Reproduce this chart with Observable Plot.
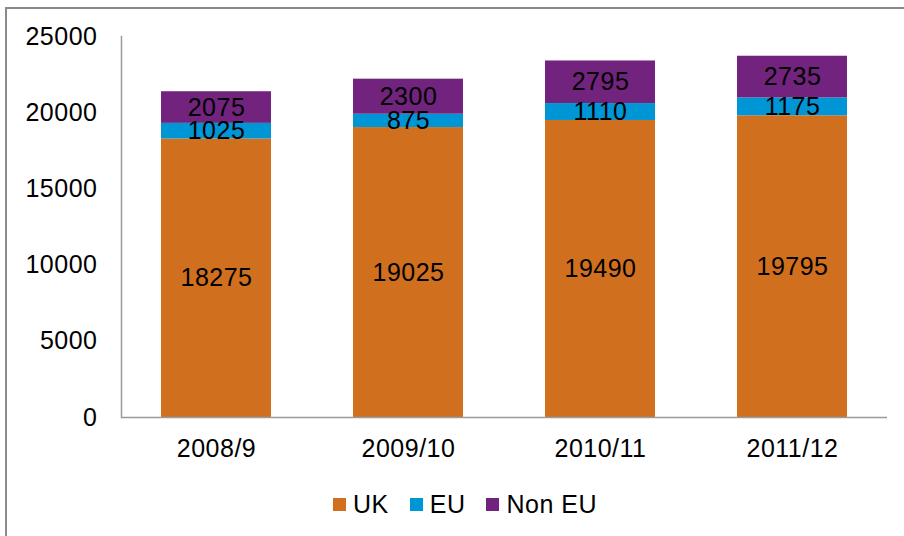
<!DOCTYPE html>
<html>
<head>
<meta charset="utf-8">
<script src="https://cdn.jsdelivr.net/npm/d3@7"></script>
<script src="https://cdn.jsdelivr.net/npm/@observablehq/plot@0.6"></script>
<style>
  html, body { margin: 0; padding: 0; background: #fff; overflow: hidden; }
  #wrap { position: relative; width: 904px; height: 536px; overflow: hidden; }
  #border { position: absolute; left: 5px; top: 7px; width: 1000px; height: 1000px; border: 2px solid #8a8a8a; box-sizing: border-box; pointer-events: none; }
  #chart { position: absolute; left: 0; top: 0; }
  #legend { position: absolute; left: 333px; top: 490px; display: flex; align-items: center;
            font-family: "Liberation Sans", Arial, sans-serif; font-size: 25px; letter-spacing: 0.5px; color: #000; }
  .item { display: flex; align-items: center; margin-right: 21px; }
  .sw { width: 13px; height: 13px; margin-right: 7px; }
</style>
</head>
<body>
<div id="wrap">
  <div id="border"></div>
  <div id="chart"></div>
  <div id="legend"></div>
</div>
<script>
const categories = ["2008/9", "2009/10", "2010/11", "2011/12"];
const series = ["UK", "EU", "Non EU"];
const ukValues = [18275, 19025, 19490, 19795];
const euValues = [1025, 875, 1110, 1175];
const nonEuValues = [2075, 2300, 2795, 2735];
const yTicks = [0, 5000, 10000, 15000, 20000, 25000];
const colors = ["#D0701F", "#0096D6", "#71237D"];

const seriesValues = [ukValues, euValues, nonEuValues];
const data = categories.flatMap((c, i) =>
  series.map((s, j) => ({category: c, series: s, value: seriesValues[j][i]}))
);

const chart = Plot.plot({
  width: 904,
  height: 536,
  marginLeft: 121,
  marginRight: 17,
  marginTop: 36,
  marginBottom: 119,
  style: {fontFamily: "'Liberation Sans', Arial, sans-serif", fontSize: "25px", color: "#000", background: "transparent", letterSpacing: "0.5px"},
  x: {domain: categories, paddingInner: 0.427, paddingOuter: 0.208, label: null},
  y: {domain: [0, 25000], label: null},
  color: {domain: series, range: colors},
  marks: [
    Plot.barY(data, {x: "category", y: "value", fill: "series", z: "series"}),
    Plot.text(data, Plot.stackY({x: "category", y: "value", z: "series", text: d => String(d.value), fill: "#000"})),
    Plot.ruleY([0], {stroke: "#9a9a9a", strokeWidth: 1.5}),
    Plot.frame({anchor: "left", stroke: "#9a9a9a", strokeWidth: 1.5}),
    Plot.axisY(yTicks, {tickSize: 0, tickPadding: 24, tickFormat: d => String(d), label: null, fill: "#000"}),
    Plot.axisX({tickSize: 0, tickPadding: 22, label: null, fill: "#000"})
  ]
});
document.getElementById("chart").appendChild(chart);

const legend = document.getElementById("legend");
series.forEach((s, i) => {
  const item = document.createElement("div");
  item.className = "item";
  const sw = document.createElement("div");
  sw.className = "sw";
  sw.style.background = colors[i];
  const label = document.createElement("span");
  label.textContent = s;
  item.appendChild(sw);
  item.appendChild(label);
  legend.appendChild(item);
});
</script>
</body>
</html>
